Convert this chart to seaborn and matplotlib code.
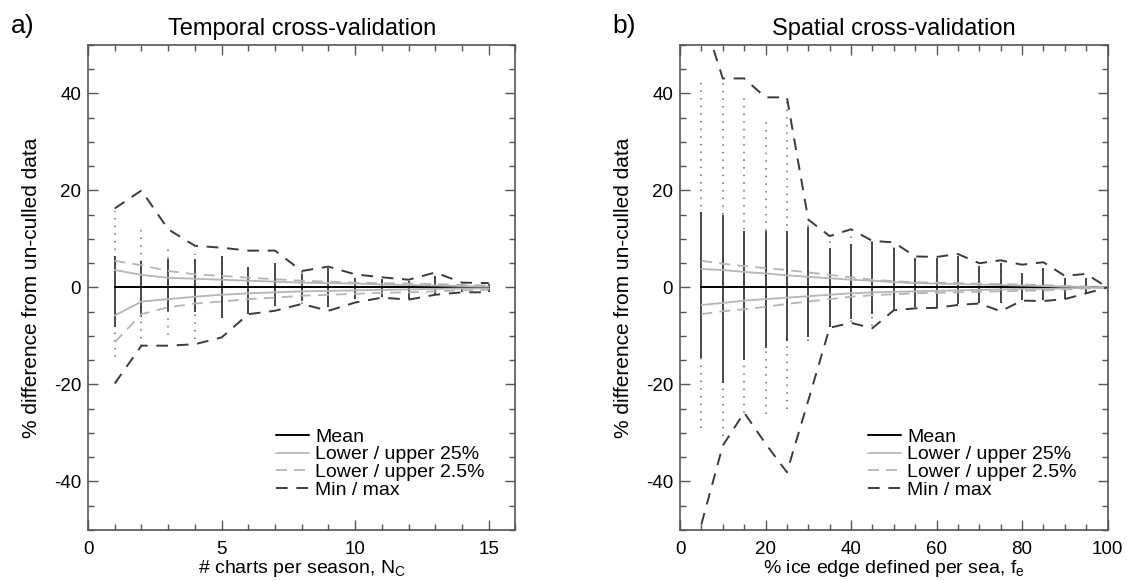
import seaborn as sns
import matplotlib.pyplot as plt
import numpy as np
import pandas as pd
from matplotlib.ticker import MultipleLocator

# ---- panel a) temporal cross-validation, x = number of charts per season
n_charts = [1, 2, 3, 4, 5, 6, 7, 8, 9, 10, 11, 12, 13, 14, 15]
a_mean = [0, 0, 0, 0, 0, 0, 0, 0, 0, 0, 0, 0, 0, 0, 0]
a_up25 = [3.6, 2.6, 2.0, 1.8, 1.6, 1.4, 1.2, 1.0, 0.9, 0.8, 0.6, 0.5, 0.4, 0.3, 0.2]
a_lo25 = [-5.8, -2.9, -2.4, -1.9, -1.5, -1.2, -1.0, -0.8, -0.7, -0.6, -0.5, -0.4, -0.3, -0.2, -0.2]
a_up2p5 = [5.5, 4.6, 3.4, 2.7, 2.4, 2.0, 1.7, 1.4, 1.2, 1.0, 0.9, 0.8, 0.7, 0.5, 0.4]
a_lo2p5 = [-11.3, -5.5, -4.1, -3.3, -2.9, -2.4, -2.1, -1.7, -1.5, -1.3, -1.1, -1.0, -0.8, -0.6, -0.5]
a_max = [16.3, 20.0, 12.0, 8.6, 8.2, 7.6, 7.6, 3.4, 4.3, 2.7, 2.1, 1.6, 3.1, 1.0, 0.9]
a_min = [-19.8, -12.0, -12.0, -11.7, -10.3, -5.5, -4.8, -3.4, -4.8, -3.1, -2.1, -2.5, -1.5, -1.0, -1.0]
# extent of the culled-sample dots (dense core and sparse tails)
a_dense_hi = [6.5, 5.5, 5.8, 5.8, 6.5, 4.3, 5.1, 2.7, 4.1, 2.0, 1.7, 1.4, 2.4, 0.7, 0.7]
a_dense_lo = [-8.2, -6.0, -4.8, -5.0, -6.2, -5.5, -3.8, -2.7, -4.1, -2.4, -2.0, -2.4, -1.4, -1.0, -1.0]
a_dots_hi = [15.8, 12.6, 8.5, 6.8, 6.5, 4.3, 5.1, 3.4, 4.1, 2.0, 1.7, 1.4, 2.4, 0.7, 0.7]
a_dots_lo = [-14.3, -12.0, -9.9, -10.6, -6.2, -5.5, -3.8, -3.4, -4.1, -2.4, -2.0, -2.4, -1.4, -1.0, -1.0]

# ---- panel b) spatial cross-validation, x = % ice edge defined per sea
pct_edge = [5, 10, 15, 20, 25, 30, 35, 40, 45, 50, 55, 60, 65, 70, 75, 80, 85, 90, 95, 100]
b_mean = [0] * 20
b_up25 = [3.8, 3.6, 3.2, 2.9, 2.5, 2.2, 1.9, 1.6, 1.4, 1.1, 0.9, 0.8, 0.7, 0.6, 0.5, 0.4, 0.3, 0.2, 0.1, 0]
b_lo25 = [-3.6, -3.2, -2.7, -2.4, -2.1, -1.8, -1.5, -1.2, -1.0, -0.9, -0.8, -0.7, -0.6, -0.5, -0.4, -0.3, -0.3, -0.2, -0.1, 0]
b_up2p5 = [5.5, 4.9, 4.4, 4.0, 3.6, 3.1, 2.6, 2.1, 1.6, 1.3, 1.1, 1.0, 0.9, 0.8, 0.7, 0.6, 0.5, 0.3, 0.2, 0]
b_lo2p5 = [-5.5, -4.9, -4.5, -4.0, -3.4, -2.9, -2.4, -1.9, -1.6, -1.4, -1.2, -1.1, -1.0, -0.9, -0.8, -0.7, -0.6, -0.4, -0.2, 0]
b_max = [57.0, 43.1, 43.1, 39.2, 39.2, 14.0, 10.6, 12.0, 9.6, 9.3, 6.4, 6.3, 6.9, 5.0, 5.6, 4.7, 5.2, 2.4, 2.8, 0]
b_min = [-48.8, -32.6, -25.8, -32.2, -38.1, -23.3, -8.3, -7.3, -8.4, -4.7, -4.3, -4.2, -3.6, -3.3, -4.9, -2.7, -2.8, -2.4, -1.2, 0]
b_dense_hi = [15.5, 15.0, 11.7, 11.7, 11.7, 12.4, 8.2, 8.9, 9.3, 8.1, 6.0, 6.0, 6.5, 4.5, 5.0, 3.0, 4.0, 2.0, 2.0, 0]
b_dense_lo = [-14.6, -19.6, -15.0, -12.4, -11.0, -10.3, -8.2, -6.5, -5.5, -4.5, -4.0, -4.0, -3.5, -3.3, -3.3, -2.5, -2.6, -2.3, -1.2, 0]
b_dots_hi = [43.1, 43.1, 39.2, 35.2, 39.2, 13.9, 10.0, 11.0, 9.6, 8.5, 6.0, 6.0, 6.5, 4.5, 5.0, 3.0, 4.0, 2.0, 2.0, 0]
b_dots_lo = [-28.9, -30.6, -25.8, -26.1, -25.0, -11.0, -8.2, -7.2, -8.0, -4.7, -4.0, -4.0, -3.5, -3.3, -3.3, -2.5, -2.6, -2.3, -1.2, 0]

leg_labels = ['Mean', 'Lower / upper 25%', 'Lower / upper 2.5%', 'Min / max']

sns.set_style('ticks')
plt.rcParams['font.family'] = ['Liberation Sans', 'DejaVu Sans']
plt.rcParams['mathtext.fontset'] = 'custom'
plt.rcParams['mathtext.rm'] = 'Liberation Sans'
plt.rcParams['mathtext.it'] = 'Liberation Sans'
plt.rcParams['axes.unicode_minus'] = False
plt.rcParams['text.color'] = 'black'
plt.rcParams['axes.labelcolor'] = 'black'

FRAME = '#555555'
DOTS = '#3a3a3a'
SPARSE = '#6a6a6a'
LIGHT = '#b5b5b5'
DARK = '#3a3a3a'


def draw_panel(ax, x, mean, up25, lo25, up2p5, lo2p5, vmax, vmin,
               dense_hi, dense_lo, dots_hi, dots_lo):
    df = pd.DataFrame({'x': x, 'mean': mean, 'up25': up25, 'lo25': lo25,
                       'up2p5': up2p5, 'lo2p5': lo2p5, 'max': vmax, 'min': vmin})

    # columns of culled results: sparse tails as dots, dense core solid
    ax.vlines(x, dots_lo, dots_hi, colors=SPARSE, linewidth=1.1,
              linestyles=[(0, (1.0, 4.0))], zorder=1)
    ax.vlines(x, dense_lo, dense_hi, colors=DOTS, linewidth=1.3, zorder=1)

    sns.lineplot(data=df, x='x', y='mean', ax=ax, color='black', lw=1.4,
                 label=leg_labels[0], zorder=2)
    sns.lineplot(data=df, x='x', y='up25', ax=ax, color=LIGHT, lw=1.3,
                 label=leg_labels[1], zorder=3)
    sns.lineplot(data=df, x='x', y='lo25', ax=ax, color=LIGHT, lw=1.3, zorder=3)
    sns.lineplot(data=df, x='x', y='up2p5', ax=ax, color=LIGHT, lw=1.3,
                 linestyle=(0, (6, 4)), label=leg_labels[2], zorder=3)
    sns.lineplot(data=df, x='x', y='lo2p5', ax=ax, color=LIGHT, lw=1.3,
                 linestyle=(0, (6, 4)), zorder=3)
    sns.lineplot(data=df, x='x', y='max', ax=ax, color=DARK, lw=1.4,
                 linestyle=(0, (6, 4.5)), label=leg_labels[3], zorder=4)
    sns.lineplot(data=df, x='x', y='min', ax=ax, color=DARK, lw=1.4,
                 linestyle=(0, (6, 4.5)), zorder=4)

    ax.set_ylim(-50, 50)
    ax.yaxis.set_major_locator(MultipleLocator(20))
    ax.yaxis.set_minor_locator(MultipleLocator(5))
    ax.tick_params(which='both', direction='in', top=True, right=True,
                   color=FRAME, labelsize=13.5, labelcolor='black')
    ax.tick_params(axis='x', which='both', pad=8)
    ax.tick_params(axis='y', which='both', pad=5)
    ax.tick_params(which='major', length=7, width=1)
    ax.tick_params(which='minor', length=4, width=1)
    for sp in ax.spines.values():
        sp.set_color(FRAME)
        sp.set_linewidth(1.2)
    ax.set_ylabel('% difference from un-culled data', fontsize=15, labelpad=9)
    ax.legend(loc='upper left', bbox_to_anchor=(0.44, 0.21), frameon=False,
              fontsize=14, handlelength=1.7, handletextpad=0.3,
              labelspacing=0.0, borderpad=0, borderaxespad=0)


fig = plt.figure(figsize=(11.27, 5.81), dpi=100)
ax1 = fig.add_axes([0.0781, 0.0878, 0.3793, 0.8348])
ax2 = fig.add_axes([0.6034, 0.0878, 0.3793, 0.8348])

draw_panel(ax1, n_charts, a_mean, a_up25, a_lo25, a_up2p5, a_lo2p5, a_max, a_min,
           a_dense_hi, a_dense_lo, a_dots_hi, a_dots_lo)
ax1.set_xlim(0, 16)
ax1.xaxis.set_major_locator(MultipleLocator(5))
ax1.xaxis.set_minor_locator(MultipleLocator(1))
ax1.set_xlabel(r'# charts per season, N$_\mathregular{C}$', fontsize=14, labelpad=0)
ax1.set_title('Temporal cross-validation', fontsize=17, pad=7)

draw_panel(ax2, pct_edge, b_mean, b_up25, b_lo25, b_up2p5, b_lo2p5, b_max, b_min,
           b_dense_hi, b_dense_lo, b_dots_hi, b_dots_lo)
ax2.set_xlim(0, 100)
ax2.xaxis.set_major_locator(MultipleLocator(20))
ax2.xaxis.set_minor_locator(MultipleLocator(5))
ax2.set_xlabel(r'% ice edge defined per sea, f$_\mathregular{e}$', fontsize=14, labelpad=0)
ax2.set_title('Spatial cross-validation', fontsize=17, pad=7)

fig.text(0.010, 1 - 33 / 581, 'a)', fontsize=19, va='baseline')
fig.text(0.543, 1 - 33 / 581, 'b)', fontsize=19, va='baseline')

fig.savefig('out.png', dpi=100)
